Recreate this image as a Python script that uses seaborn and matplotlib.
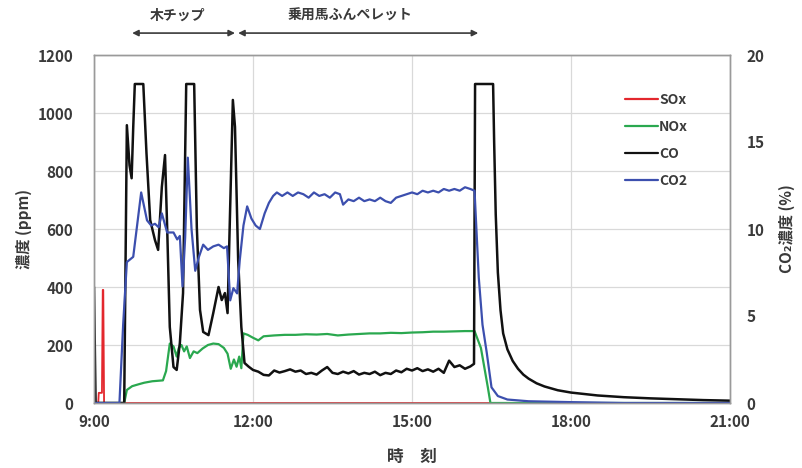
import numpy as np
import pandas as pd
import matplotlib
matplotlib.use("Agg")
import matplotlib.pyplot as plt
from matplotlib.lines import Line2D
import seaborn as sns

# ---- measured series (time in hours of day) ----
sox_t = [9.00, 9.08, 9.09, 9.15, 9.165, 9.175, 9.19, 21.0]
sox_v = [0, 0, 35, 35, 390, 390, 0, 0]

nox_t = [9.00, 9.57, 9.62, 9.72, 9.85, 9.95, 10.10, 10.30, 10.36, 10.43, 10.50, 10.56,
         10.60, 10.65, 10.70, 10.75, 10.81, 10.88, 10.95, 11.05, 11.15, 11.25, 11.35,
         11.45, 11.52, 11.58, 11.64, 11.69, 11.74, 11.78, 11.82, 11.90, 12.00, 12.10,
         12.20, 12.40, 12.60, 12.80, 13.00, 13.20, 13.40, 13.60, 13.80, 14.00, 14.20,
         14.40, 14.60, 14.80, 15.00, 15.20, 15.40, 15.60, 15.80, 16.00, 16.18, 16.30,
         16.43, 16.48, 21.00]
nox_v = [0, 0, 45, 58, 65, 70, 75, 78, 110, 205, 195, 160,
         190, 200, 178, 195, 155, 178, 172, 188, 200, 205, 203,
         190, 170, 118, 150, 125, 160, 120, 240, 235, 225, 216,
         230, 233, 235, 235, 237, 236, 238, 233, 236, 238, 240,
         240, 242, 241, 243, 244, 246, 246, 247, 248, 248, 190,
         55, 0, 0]

co_t = [9.00, 9.03, 9.57, 9.62, 9.67, 9.71, 9.74, 9.77, 9.93, 9.99, 10.06, 10.15,
        10.21, 10.28, 10.34, 10.38, 10.43, 10.50, 10.56, 10.62, 10.68, 10.74, 10.89,
        10.94, 11.00, 11.06, 11.16, 11.25, 11.35, 11.41, 11.47, 11.52, 11.56, 11.62,
        11.66, 11.72, 11.78, 11.84, 11.92, 12.00, 12.10, 12.20, 12.30, 12.40, 12.50,
        12.60, 12.70, 12.80, 12.90, 13.00, 13.10, 13.20, 13.30, 13.40, 13.50, 13.60,
        13.70, 13.80, 13.90, 14.00, 14.10, 14.20, 14.30, 14.40, 14.50, 14.60, 14.70,
        14.80, 14.90, 15.00, 15.10, 15.20, 15.30, 15.40, 15.50, 15.60, 15.70, 15.80,
        15.90, 16.00, 16.10, 16.17, 16.19, 16.53, 16.55, 16.58, 16.62, 16.67, 16.72,
        16.80, 16.90, 17.00, 17.10, 17.20, 17.35, 17.50, 17.75, 18.00, 18.50, 19.00,
        19.50, 20.00, 20.50, 21.00]
co_v = [400, 0, 0, 958, 820, 775, 950, 1100, 1100, 862, 631, 562,
        528, 745, 855, 607, 262, 124, 114, 207, 379, 1100, 1100,
        607, 321, 245, 234, 310, 400, 355, 379, 310, 607, 1045,
        952, 493, 262, 138, 125, 114, 108, 97, 95, 112, 105,
        110, 116, 108, 112, 100, 104, 98, 112, 124, 104, 100,
        108, 102, 110, 98, 104, 100, 108, 96, 104, 100, 112,
        106, 118, 112, 120, 110, 116, 108, 118, 104, 146, 124,
        130, 118, 126, 135, 1100, 1100, 900, 650, 450, 320, 240,
        185, 145, 118, 98, 84, 68, 57, 44, 36, 26, 20,
        16, 13, 10, 8]

co2_t = [9.00, 9.48, 9.55, 9.62, 9.74, 9.89, 10.00, 10.08, 10.15, 10.22, 10.28,
         10.38, 10.50, 10.57, 10.62, 10.67, 10.72, 10.77, 10.84, 10.91, 10.98,
         11.06, 11.15, 11.25, 11.35, 11.45, 11.51, 11.57, 11.63, 11.70, 11.75,
         11.82, 11.89, 11.97, 12.05, 12.13, 12.22, 12.30, 12.38, 12.45, 12.55,
         12.65, 12.75, 12.85, 12.95, 13.05, 13.15, 13.25, 13.35, 13.45, 13.55,
         13.64, 13.70, 13.80, 13.90, 14.00, 14.10, 14.20, 14.30, 14.40, 14.50,
         14.60, 14.70, 14.80, 14.90, 15.00, 15.10, 15.20, 15.30, 15.40, 15.50,
         15.60, 15.70, 15.80, 15.90, 16.00, 16.10, 16.18, 16.26, 16.33, 16.41,
         16.50, 16.62, 16.80, 17.20, 18.00, 19.00, 21.00]
co2_v = [0.0, 0.0, 4.5, 8.1, 8.4, 12.1, 10.5, 10.2, 10.3, 10.1, 10.9,
         9.8, 9.8, 9.4, 9.6, 6.7, 9.5, 14.1, 10.0, 7.6, 8.4,
         9.1, 8.8, 9.0, 9.1, 8.9, 9.0, 5.9, 6.6, 6.3, 8.2,
         10.2, 11.3, 10.6, 10.2, 10.0, 10.9, 11.5, 11.9, 12.1, 11.9,
         12.1, 11.9, 12.1, 12.0, 11.8, 12.1, 11.9, 12.0, 11.8, 12.1,
         12.0, 11.4, 11.7, 11.6, 11.8, 11.6, 11.7, 11.6, 11.8, 11.6,
         11.5, 11.8, 11.9, 12.0, 12.1, 12.0, 12.2, 12.1, 12.2, 12.1,
         12.3, 12.2, 12.3, 12.2, 12.4, 12.3, 12.2, 7.2, 4.5, 2.9,
         0.9, 0.4, 0.2, 0.1, 0.05, 0.0, 0.0]

x_ticks = [9, 12, 15, 18, 21]
x_ticklabels = ["9:00", "12:00", "15:00", "18:00", "21:00"]
series_names = ["SOx", "NOx", "CO", "CO2"]
series_colors = ["#e3272d", "#2aa84f", "#111111", "#3c4fae"]

# ---- style ----
sns.set_theme(style="white")
plt.rcParams["font.family"] = ["Noto Sans CJK JP", "DejaVu Sans"]
plt.rcParams["font.weight"] = "bold"
text_color = "#3a3a3a"

fig = plt.figure(figsize=(8.03, 4.68), dpi=100)
ax = fig.add_axes([94 / 803, 1 - 403 / 468, (730 - 94) / 803, (403 - 55) / 468])
ax2 = ax.twinx()

ppm_frames = [
    (sox_t, sox_v, 0, 1.3),
    (nox_t, nox_v, 1, 1.6),
    (co_t, co_v, 2, 1.8),
]
for t, v, i, lw in ppm_frames:
    df = pd.DataFrame({"time": t, "value": v})
    sns.lineplot(data=df, x="time", y="value", ax=ax, color=series_colors[i],
                 linewidth=lw, estimator=None, sort=False, legend=False)

df2 = pd.DataFrame({"time": co2_t, "value": co2_v})
sns.lineplot(data=df2, x="time", y="value", ax=ax2, color=series_colors[3],
             linewidth=1.6, estimator=None, sort=False, legend=False)

# ---- axes ----
ax.set_xlim(9, 21)
ax.set_ylim(0, 1200)
ax2.set_ylim(0, 20)
ax.set_xticks(x_ticks)
ax.set_xticklabels(x_ticklabels)
ax.set_yticks(range(0, 1201, 200))
ax2.set_yticks(range(0, 21, 5))

ax.grid(True, color="#d9d9d9", linewidth=0.9)
ax.set_axisbelow(True)
for a in (ax, ax2):
    for s in a.spines.values():
        s.set_color("#9a9a9a")
        s.set_linewidth(1.0)
    a.tick_params(length=0, labelsize=11, labelcolor=text_color)
    for lab in a.get_xticklabels() + a.get_yticklabels():
        lab.set_fontweight("bold")
ax.tick_params(axis="y", pad=15)
ax.tick_params(axis="x", pad=8)
ax2.tick_params(axis="y", pad=12)

ax.set_xlabel("時　刻", fontsize=12, fontweight="bold", color=text_color)
ax.set_ylabel("濃度 (ppm)", fontsize=11, fontweight="bold", color=text_color)
ax2.set_ylabel("CO₂濃度 (%)", fontsize=11, fontweight="bold", color=text_color)
ax.xaxis.set_label_coords(0.5, -0.128)
ax.yaxis.set_label_coords(-0.098, 0.5)
ax2.yaxis.set_label_coords(1.077, 0.5)

# ---- legend ----
handles = [Line2D([0], [0], color=c, lw=1.6) for c in series_colors]
leg = ax.legend(handles, series_names, loc="upper left",
                bbox_to_anchor=(612 / 803, 1 - 80 / 468), bbox_transform=fig.transFigure,
                frameon=False, fontsize=10, handlelength=2.4, handletextpad=0.1,
                labelspacing=0.95)
for txt in leg.get_texts():
    txt.set_color(text_color)
    txt.set_fontweight("bold")
leg.set_zorder(10)

# ---- period annotations above the plot ----
trans = ax.get_xaxis_transform()
periods = [(9.72, 11.66, "木チップ"), (11.72, 16.25, "乗用馬ふんペレット")]
for start, end, label in periods:
    ax.annotate("", xy=(start, 1.063), xytext=(end, 1.063), xycoords=trans,
                textcoords=trans, annotation_clip=False,
                arrowprops=dict(arrowstyle="<|-|>", color="#3a3a3a", lw=1.2,
                                mutation_scale=9, shrinkA=0, shrinkB=0))
ax.text(10.58, 1.112, periods[0][2], transform=trans, ha="center", va="center",
        fontsize=10, fontweight="bold", color=text_color)
ax.text(13.83, 1.112, periods[1][2], transform=trans, ha="center", va="center",
        fontsize=10, fontweight="bold", color=text_color)

fig.savefig("out.png", dpi=100)
